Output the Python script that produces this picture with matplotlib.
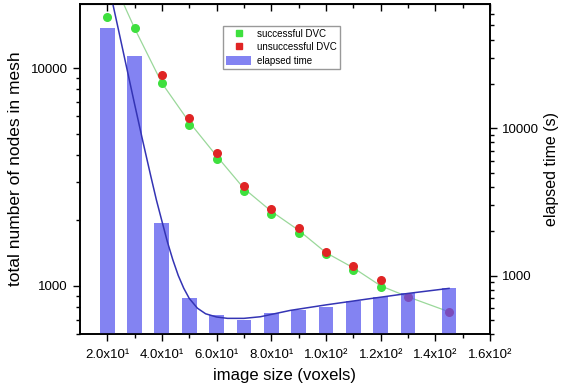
import numpy as np
import matplotlib
matplotlib.use("Agg")
import matplotlib.pyplot as plt
from matplotlib.ticker import FixedLocator, NullFormatter, LogLocator
from matplotlib.lines import Line2D
from matplotlib.patches import Patch

plt.rcParams["font.family"] = ["Liberation Sans", "DejaVu Sans"]

# =========================
# DATA
# =========================

# DVC nodes in mesh (left axis)
ok_x = [20, 30, 40, 50, 60, 70, 80, 90, 100, 110, 120]
ok_nodes = [17100, 15250, 8530, 5480, 3830, 2730, 2140, 1750, 1400, 1185, 990]

fail_x = [40, 50, 60, 70, 80, 90, 100, 110, 120, 130, 145]
fail_nodes = [9290, 5900, 4070, 2875, 2255, 1845, 1430, 1235, 1065, 890, 760]

# trend line through the DVC points
nodes_fit_x = [25, 30, 40, 50, 60, 70, 80, 90, 100, 110, 120, 130, 145]
nodes_fit_y = [21000, 15250, 8530, 5650, 3950, 2800, 2200, 1800, 1420, 1210, 1000, 890, 760]

# elapsed time bars (right axis)
time_x = [20, 30, 40, 50, 60, 70, 80, 90, 100, 110, 120, 130, 145]
time_s = [47900, 30900, 2290, 709, 543, 502, 560, 587, 615, 676, 720, 766, 828]

# fitted curve for elapsed time
time_fit_x = [21.5, 24, 27, 30, 33, 36, 38, 40, 42, 44, 46, 48, 50, 53, 56, 60,
              64, 70, 76, 87, 100, 115, 130, 145]
time_fit_y = [78000, 47800, 26450, 14660, 8220, 4690, 3260, 2350, 1700, 1280, 1000,
              820, 700, 600, 550, 523, 512, 512, 525, 580, 632, 692, 756, 818]

xtick_vals = [20, 40, 60, 80, 100, 120, 140, 160]
xtick_labels = ["2.0x10¹", "4.0x10¹", "6.0x10¹", "8.0x10¹",
                "1.0x10²", "1.2x10²", "1.4x10²", "1.6x10²"]
xminor_vals = [30, 50, 70, 90, 110, 130, 150]


# =========================
# FIGURE
# =========================

fig, ax = plt.subplots(figsize=(5.62, 3.89), dpi=100)
fig.subplots_adjust(left=0.142, right=0.872, bottom=0.141, top=0.99)

ax.plot(nodes_fit_x, nodes_fit_y, color="#9ad89a", lw=0.9, zorder=1)
ax.scatter(ok_x, ok_nodes, s=30, color="#3ee03e", zorder=2)
ax.scatter(fail_x, fail_nodes, s=30, color="#e02424", zorder=3)

ax.set_yscale("log")
ax.set_ylim(600, 19700)
ax.set_xlim(10, 160)

ax2 = ax.twinx()
ax2.bar(time_x, time_s, width=5.4, color="#5a5aee", alpha=0.75, zorder=1)
ax2.plot(time_fit_x, time_fit_y, color="#3434b4", lw=1.1, zorder=2)
ax2.set_yscale("log")
ax2.set_ylim(400, 69800)

# x ticks
ax.xaxis.set_major_locator(FixedLocator(xtick_vals))
ax.set_xticklabels(xtick_labels, fontsize=9.5)
ax.xaxis.set_minor_locator(FixedLocator(xminor_vals))
ax.tick_params(axis="x", which="major", direction="out", length=5, width=1, pad=6)
ax.tick_params(axis="x", which="minor", direction="out", length=3, width=1)

top = ax.secondary_xaxis("top")
top.xaxis.set_major_locator(FixedLocator(xtick_vals))
top.xaxis.set_minor_locator(FixedLocator(xminor_vals))
top.tick_params(which="major", direction="in", length=5, width=1, labeltop=False)
top.tick_params(which="minor", direction="in", length=3, width=1)

# y ticks
for a, labs in [(ax, [1000, 10000]), (ax2, [1000, 10000])]:
    a.yaxis.set_major_locator(FixedLocator(labs))
    a.set_yticklabels([str(v) for v in labs], fontsize=9.5)
    a.yaxis.set_minor_locator(LogLocator(base=10, subs=range(2, 10)))
    a.yaxis.set_minor_formatter(NullFormatter())
    a.tick_params(axis="y", which="major", direction="out", length=5, width=1)
    a.tick_params(axis="y", which="minor", direction="out", length=3, width=1)

for a in (ax, ax2):
    for sp in a.spines.values():
        sp.set_linewidth(1.2)

ax.set_xlabel("image size (voxels)", fontsize=12, labelpad=5)
ax.set_ylabel("total number of nodes in mesh", fontsize=12.5, labelpad=6)
ax2.set_ylabel("elapsed time (s)", fontsize=11.5, labelpad=4)

handles = [
    Line2D([], [], ls="", marker="s", ms=5, color="#3ee03e"),
    Line2D([], [], ls="", marker="s", ms=5, color="#e02424"),
    Patch(facecolor="#5a5aee", alpha=0.75),
]
ax2.legend(handles, ["successful DVC", "unsuccessful DVC", "elapsed time"],
           loc="upper left", bbox_to_anchor=(223 / 562, 1 - 26 / 389),
           bbox_transform=fig.transFigure, fontsize=7, frameon=True,
           fancybox=False, edgecolor="#999999", framealpha=1,
           handlelength=2.6, handleheight=1.0, labelspacing=0.35,
           borderpad=0.3, handletextpad=0.6, borderaxespad=0)

fig.savefig("out.png", dpi=100)
